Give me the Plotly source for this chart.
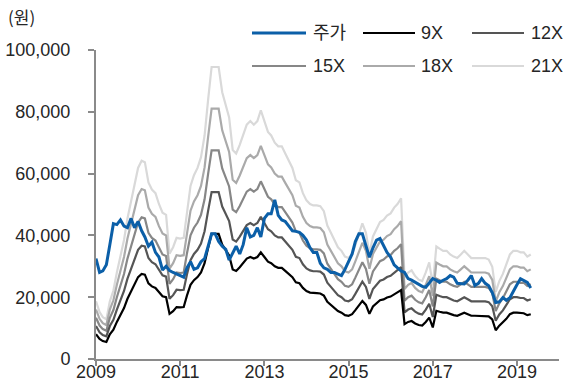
import pandas as pd
import plotly.graph_objects as go

# Monthly observations, Jan 2009 - May 2019
dates = pd.date_range("2009-01-01", periods=125, freq="MS")

# Share price (won)
price = [
    32500, 28000, 28500, 30500, 37000, 43800, 43500, 45000, 43000, 42500, 45500, 42500,
    44500, 41500, 39500, 36500, 37800, 34500, 33000, 28800, 30000, 28600, 28000, 27500,
    27000, 26500, 29500, 31500, 29000, 29500, 31500, 32500, 36500, 40500, 40500, 38000,
    36500, 35500, 32000, 34500, 36500, 34000, 37000, 42500, 39500, 40000, 42500, 39500,
    45500, 47000, 47000, 51500, 46500, 45000, 44500, 43000, 41500, 41300, 41000, 40000,
    38500, 36000, 34500, 34500, 31000, 29500, 29000, 28000, 28000, 27500, 27000, 29000,
    31500, 34000, 38000, 40500, 40500, 36500, 32900, 36000, 38500, 39000, 36500, 34500,
    33000, 30500, 29500, 28500, 28000, 26000, 25500, 24800, 24000, 23500, 23200, 24500,
    26000, 25500, 24800, 25500, 26000, 27000, 26500, 24500, 24300, 24300, 25500, 27000,
    23800, 24500, 26000, 24500, 23700, 21500, 18300, 18500, 19900, 19000, 19800, 22000,
    24000, 26000, 25500, 24800, 23000,
]

# Price at 9x earnings (won); EPS = value / 9
band_9x = [
    8000, 6500, 5800, 5500, 8000, 9500, 12000, 14500, 16500, 19500, 22000, 24500,
    26500, 27500, 27300, 24500, 23500, 23000, 21500, 20300, 20000, 14600, 15500, 16800,
    16700, 16800, 20500, 24000, 25500, 26500, 28000, 31000, 36000, 40500, 40500, 40500,
    37000, 35000, 33500, 29000, 28500, 29700, 31000, 32500, 33000, 32500, 33000, 34500,
    33000, 31500, 31000, 30000, 29500, 29500, 28500, 27500, 26500, 24800, 24500, 23000,
    22000, 21500, 21300, 21300, 21200, 20500, 18500, 17500, 16500, 15500, 15000, 14200,
    14000, 14500, 15800, 17500, 18800, 17500, 14600, 17000, 18000, 19000, 19300, 19900,
    20200, 21000, 21500, 22300, 11300, 12000, 12300, 11500, 11000, 10800, 12000, 13400,
    10200, 15600, 15300, 15000, 15000, 14500, 14200, 14000, 14500, 15000, 14500, 14000,
    14000, 14000, 14000, 14000, 13800, 12800, 9300, 10800, 11800, 13000, 14500, 15000,
    15000, 14800, 14800, 14200, 14500,
]
eps = [v / 9 for v in band_9x]

multiples = [9, 12, 15, 18, 21]
band_names = ["9X", "12X", "15X", "18X", "21X"]
band_colors = ["#000000", "#555555", "#878787", "#aaaaaa", "#d9d9d9"]
price_name = "주가"
price_color = "#0b5fa8"

x_ticks = ["2009", "2011", "2013", "2015", "2017", "2019"]
y_ticks = [0, 20000, 40000, 60000, 80000, 100000]

FONT = "Liberation Sans, Arial, Noto Sans CJK KR, sans-serif"
AXIS_GRAY = "#8a8a8a"
TEXT = "#262626"

fig = go.Figure()

# PER bands, drawn lightest first so the darker lines sit on top
for mult, name, color in reversed(list(zip(multiples, band_names, band_colors))):
    fig.add_trace(go.Scatter(
        x=dates, y=[e * mult for e in eps], mode="lines", name=name,
        line=dict(color=color, width=2.2), showlegend=False,
    ))

fig.add_trace(go.Scatter(
    x=dates, y=price, mode="lines", name=price_name,
    line=dict(color=price_color, width=3), showlegend=False,
))

fig.update_layout(
    width=564, height=387,
    margin=dict(l=96, r=5, t=50, b=28, autoexpand=False),
    paper_bgcolor="white", plot_bgcolor="white",
    font=dict(family=FONT, size=18, color=TEXT),
)

fig.update_xaxes(
    range=["2009-01-01", "2020-01-01"],
    tickvals=[f"{y}-01-01" for y in x_ticks], ticktext=x_ticks,
    showgrid=False, zeroline=False, automargin=False,
    showline=True, linecolor=AXIS_GRAY, linewidth=2,
    ticks="outside", ticklen=5, tickwidth=1.5, tickcolor=AXIS_GRAY,
    ticklabelstandoff=-10,
)
fig.update_yaxes(
    range=[0, 100000],
    tickvals=y_ticks, ticktext=[f"{v:,}" for v in y_ticks],
    showgrid=False, zeroline=False, automargin=False,
    showline=True, linecolor=AXIS_GRAY, linewidth=2,
    ticks="outside", ticklen=6, tickwidth=1.5, tickcolor=AXIS_GRAY,
    ticklabelstandoff=14,
)

# Unit label
fig.add_annotation(
    text="(원)", xref="paper", yref="paper", x=-0.195, y=1.107,
    xanchor="left", yanchor="middle", showarrow=False,
    font=dict(family="Noto Sans CJK KR, sans-serif", size=17, color=TEXT),
)

# Legend: two rows of three entries, each a line sample followed by its label
W, H = 463.0, 309.0  # plot area size in px


def px_x(px):
    return (px - 96) / W


def px_y(py):
    return (359 - py) / H


legend_items = [(price_name, price_color, 3)] + [
    (n, c, 2.2) for n, c in zip(band_names, band_colors)
]
col_line = [(252, 306), (363, 415), (472, 524)]
col_text = [311, 419, 529]
row_y = [33, 66]
for i, (name, color, width) in enumerate(legend_items):
    r, c = divmod(i, 3)
    x0, x1 = col_line[c]
    fig.add_shape(
        type="line", xref="paper", yref="paper",
        x0=px_x(x0), x1=px_x(x1), y0=px_y(row_y[r]), y1=px_y(row_y[r]),
        line=dict(color=color, width=width),
    )
    fig.add_annotation(
        text=name, xref="paper", yref="paper",
        x=px_x(col_text[c]), y=px_y(row_y[r]),
        xanchor="left", yanchor="middle", showarrow=False,
        font=dict(family=FONT, size=18, color=TEXT),
    )

fig.write_html("out.html")
